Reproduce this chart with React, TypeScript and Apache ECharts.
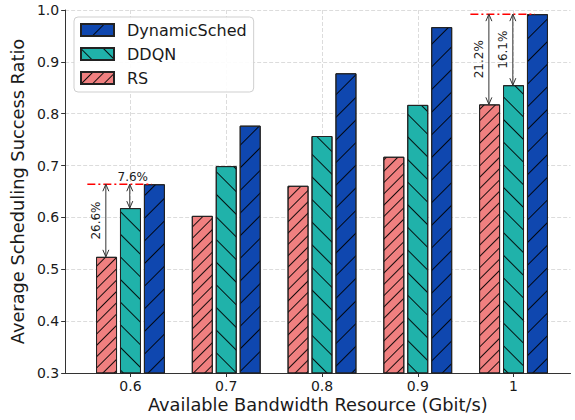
import React, { useEffect, useRef } from "react";
import * as echarts from "echarts";

const categories = ["0.6", "0.7", "0.8", "0.9", "1"];
const rsValues = [0.524, 0.603, 0.661, 0.717, 0.818];
const ddqnValues = [0.618, 0.699, 0.757, 0.817, 0.855];
const dynValues = [0.664, 0.777, 0.878, 0.967, 0.992];
const seriesNames = ["DynamicSched", "DDQN", "RS"];
const annotatedIndices = [0, 4];
const rsGapLabels = ["26.6%", "21.2%"];
const ddqnGapLabels = ["7.6%", "16.1%"];

const FONT = "DejaVu Sans";
const TXT = "#1a1a1a";
const BAR_W = 21;
const BAR_GAP = 0.14;
const OFF = BAR_W * (1 + BAR_GAP);

function hatch(rot: number, gap: number) {
  return {
    symbol: "rect",
    symbolSize: 1,
    color: "rgba(0,0,0,0.9)",
    dashArrayX: [1, 0],
    dashArrayY: [1, gap],
    rotation: rot,
  };
}

export default function App() {
  const ref = useRef<HTMLDivElement>(null);
  useEffect(() => {
    if (!ref.current) return;
    const chart = echarts.init(ref.current, null, { renderer: "svg" });
    const annotData = annotatedIndices.map((i) => [i, rsValues[i], ddqnValues[i], dynValues[i]]);
    const gridLine = { show: true, lineStyle: { color: "#dcdcdc", type: [4, 2] as any, width: 1 } };
    const option: any = {
      animation: false,
      textStyle: { fontFamily: FONT },
      grid: [
        { left: 65, right: 4.5, top: 10, bottom: 47 },
        { left: 82.6, right: 13.6, top: 10, bottom: 47 },
      ],
      legend: {
        orient: "vertical",
        left: 74,
        top: 17,
        itemWidth: 33,
        itemHeight: 12,
        itemGap: 8,
        padding: [5, 7, 6, 6],
        borderColor: "#cfcfcf",
        borderWidth: 1,
        borderRadius: 4,
        backgroundColor: "rgba(255,255,255,0.9)",
        icon: "rect",
        textStyle: { fontSize: 16, lineHeight: 16, color: TXT, fontFamily: FONT, padding: [0, 0, 0, 8] },
        data: seriesNames,
      },
      xAxis: [
        {
          gridIndex: 0,
          type: "value",
          min: 0,
          max: 1,
          axisLine: { show: true, lineStyle: { color: "#333", width: 1 } },
          axisTick: { show: false },
          axisLabel: { show: false },
          splitLine: { show: false },
          name: "Available Bandwidth Resource (Gbit/s)",
          nameLocation: "middle",
          nameGap: 22,
          nameTextStyle: { fontSize: 17.8, color: TXT, fontFamily: FONT },
        },
        {
          gridIndex: 1,
          type: "category",
          data: categories,
          axisLine: { show: false },
          axisTick: { show: true, alignWithLabel: true, length: 4, lineStyle: { color: "#333" } },
          axisLabel: { margin: 6, fontSize: 14, color: TXT, fontFamily: FONT },
          splitLine: { ...gridLine, alignWithLabel: true },
        },
      ],
      yAxis: [
        {
          gridIndex: 0,
          type: "value",
          min: 0.3,
          max: 1.0,
          interval: 0.1,
          axisLine: { show: true, lineStyle: { color: "#333", width: 1 } },
          axisTick: { show: true, length: 4, lineStyle: { color: "#333" } },
          axisLabel: { margin: 6, fontSize: 14, color: TXT, fontFamily: FONT, formatter: (v: number) => v.toFixed(1) },
          splitLine: gridLine,
          name: "Average Scheduling Success Ratio",
          nameLocation: "middle",
          nameGap: 31,
          nameTextStyle: { fontSize: 17.8, color: TXT, fontFamily: FONT },
        },
        { gridIndex: 1, type: "value", min: 0.3, max: 1.0, show: false },
      ],
      series: [
        {
          name: "RS",
          type: "bar",
          xAxisIndex: 1,
          yAxisIndex: 1,
          data: rsValues,
          barWidth: BAR_W,
          barGap: BAR_GAP * 100 + "%",
          itemStyle: { color: "#F08080", borderColor: "#222", borderWidth: 1, decal: hatch(-Math.PI / 4, 7) },
        },
        {
          name: "DDQN",
          type: "bar",
          xAxisIndex: 1,
          yAxisIndex: 1,
          data: ddqnValues,
          barWidth: BAR_W,
          barGap: BAR_GAP * 100 + "%",
          itemStyle: { color: "#20B2AA", borderColor: "#222", borderWidth: 1, decal: hatch(Math.PI / 4, 15) },
        },
        {
          name: "DynamicSched",
          type: "bar",
          xAxisIndex: 1,
          yAxisIndex: 1,
          data: dynValues,
          barWidth: BAR_W,
          barGap: BAR_GAP * 100 + "%",
          itemStyle: { color: "#0F47AF", borderColor: "#222", borderWidth: 1, decal: hatch(-Math.PI / 4, 15) },
        },
        {
          type: "custom",
          xAxisIndex: 1,
          yAxisIndex: 1,
          z: 10,
          silent: true,
          data: annotData,
          renderItem: (params: any, api: any) => {
            const k = params.dataIndex;
            const ci = api.value(0);
            const top = api.coord([ci, api.value(3)]);
            const pRS = api.coord([ci, api.value(1)]);
            const pDQ = api.coord([ci, api.value(2)]);
            const xDQ = top[0] - 0.7;
            const xRS = xDQ - OFF;
            const xDY = xDQ + OFF;
            const yT = top[1];
            const children: any[] = [];
            children.push({
              type: "line",
              shape: { x1: xRS - 18.5, y1: yT, x2: xDY - 2, y2: yT },
              style: { stroke: "#ff0000", lineWidth: 1.5, lineDash: [8, 3, 2, 3] },
            });
            const arrow = (x: number, y1: number, y2: number) => {
              const st = { stroke: "#333", lineWidth: 1, fill: null };
              children.push({ type: "line", shape: { x1: x, y1, x2: x, y2 }, style: st });
              children.push({ type: "polyline", shape: { points: [[x - 3, y1 + 7], [x, y1], [x + 3, y1 + 7]] }, style: st });
              children.push({ type: "polyline", shape: { points: [[x - 3, y2 - 7], [x, y2], [x + 3, y2 - 7]] }, style: st });
            };
            arrow(xRS, yT, pRS[1]);
            arrow(xDQ, yT, pDQ[1]);
            const lbl = (text: string, x: number, y1: number, y2: number, horizontalX: number) => {
              if (y2 - y1 < 35) {
                children.push({
                  type: "text",
                  x: horizontalX,
                  y: y1 - 1,
                  style: { text, fill: TXT, font: `12px '${FONT}'`, align: "center", verticalAlign: "bottom" },
                });
              } else {
                children.push({
                  type: "text",
                  x: x - 10,
                  y: (y1 + y2) / 2,
                  rotation: Math.PI / 2,
                  style: { text, fill: TXT, font: `12px '${FONT}'`, align: "center", verticalAlign: "middle" },
                });
              }
            };
            lbl(rsGapLabels[k], xRS, yT, pRS[1], xRS + 3);
            lbl(ddqnGapLabels[k], xDQ, yT, pDQ[1], xDQ + 3);
            return { type: "group", children };
          },
        },
      ],
    };
    chart.setOption(option);
    return () => chart.dispose();
  }, []);
  return <div ref={ref} style={{ position: "absolute", left: 0, top: 0, width: 575, height: 420 }} />;
}
